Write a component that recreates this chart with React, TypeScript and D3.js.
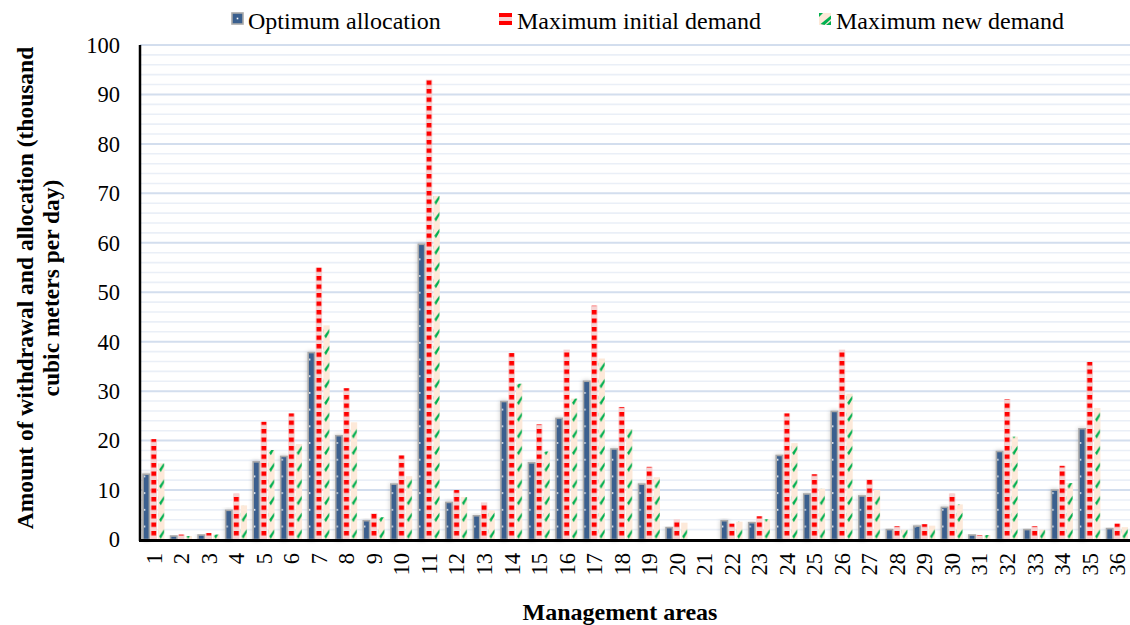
import React from "react";
import * as d3 from "d3";

const categories = Array.from({ length: 36 }, (_, i) => String(i + 1));
const optimumAllocation = [13.2, 0.7, 0.9, 5.9, 15.7, 16.8, 37.8, 21, 3.8, 11.2, 59.7, 7.5, 4.8, 27.9, 15.5, 24.5, 32, 18.3, 11.2, 2.4, 0, 3.8, 3.4, 17, 9.2, 25.9, 8.8, 2, 2.7, 6.5, 0.9, 17.8, 2, 10, 22.4, 2.2];
const maxInitialDemand = [20.3, 1, 1.3, 9.3, 23.8, 25.5, 55, 30.6, 5.3, 17, 93, 10, 7.5, 37.7, 23.3, 38.4, 47.3, 26.8, 14.7, 4.1, 0, 3.2, 4.7, 25.5, 13.2, 38.4, 12.2, 2.7, 3.1, 9.3, 0.9, 28.4, 2.7, 14.9, 35.9, 3.2];
const maxNewDemand = [15.4, 0.7, 1, 6.9, 18.1, 19.3, 43.3, 23.7, 4.5, 12.8, 69.5, 8.6, 5.9, 31.5, 17.8, 28.5, 36.6, 22.3, 12.6, 3.4, 0, 3.6, 4.1, 19.5, 10.3, 29.5, 10, 2, 2.8, 7.1, 0.9, 20.8, 2, 11.4, 26.6, 2.5];
const seriesNames = ["Optimum allocation", "Maximum initial demand", "Maximum new demand"];
const yTicks = [0, 10, 20, 30, 40, 50, 60, 70, 80, 90, 100];
const minorTicks = d3.range(0, 101, 2);

const W = 1130, H = 625;
const left = 140, right = 1131, top = 45, bottom = 539.5;
const FONT = "'Liberation Serif'";

export default function App() {
  const x0 = d3.scaleBand().domain(categories).range([left, right]).paddingInner(0.22).paddingOuter(0.11);
  const keys = ["opt", "ini", "new"];
  const x1 = d3.scaleBand().domain(keys).range([0, x0.bandwidth()]).paddingInner(0.16);
  const y = d3.scaleLinear().domain([0, 100]).range([bottom, top]);
  const bw = x1.bandwidth();
  const seriesData: Record<string, number[]> = { opt: optimumAllocation, ini: maxInitialDemand, new: maxNewDemand };
  const fills: Record<string, string> = { opt: "url(#pBlue)", ini: "url(#pRed)", new: "url(#pGreen)" };
  const ts = { fontFamily: FONT };

  return (
    <svg width={W} height={H} style={{ position: "absolute", left: 0, top: 0, background: "#fff" }}>
      <defs>
        <pattern id="pBlue" patternUnits="userSpaceOnUse" x={x1("opt")} y={0} width={bw} height={16.7}>
          <rect width={bw} height={16.7} fill="#3a5f8e" />
          <rect x={0.6} y={8} width={1.6} height={1.6} fill="#ffffff" />
        </pattern>
        <pattern id="pRed" patternUnits="userSpaceOnUse" x={x1("ini")} y={bottom} width={bw} height={8.5}>
          <rect width={bw} height={8.5} fill="#f6d3d3" />
          <rect x={0.7} y={0} width={bw - 1.4} height={4.4} fill="#ff0000" />
        </pattern>
        <pattern id="pGreen" patternUnits="userSpaceOnUse" x={x1("new")} y={bottom} width={bw} height={16.7}>
          <rect width={bw} height={16.7} fill="#fde9d9" />
          <path d={`M1,13.5 L${bw - 0.3},6.5 L${bw - 0.3},9.8 L2.6,16 Z`} fill="#00b050" />
        </pattern>
        <filter id="shadow" x="-100%" y="-10%" width="300%" height="120%">
          <feDropShadow dx="0" dy="0" stdDeviation="2.2" floodColor="#000" floodOpacity="0.22" />
        </filter>
      </defs>

      {/* gridlines */}
      {minorTicks.filter((t) => t % 10 !== 0).map((t) => (
        <line key={"mi" + t} x1={left} x2={W} y1={y(t)} y2={y(t)} stroke="#eaeff7" strokeWidth={1.6} />
      ))}
      {yTicks.filter((t) => t !== 0).map((t) => (
        <line key={"ma" + t} x1={left} x2={W} y1={y(t)} y2={y(t)} stroke="#d3deee" strokeWidth={2} />
      ))}

      {/* bars */}
      {categories.map((c, i) => (
        <g key={c} transform={`translate(${x0(c)},0)`}>
          {keys.map((k) => {
            const v = seriesData[k][i];
            if (v <= 0) return null;
            const yy = y(v);
            const h = bottom - yy;
            return (
              <rect
                key={k}
                x={x1(k)}
                y={yy}
                width={bw}
                height={h}
                fill={fills[k]}
                stroke={k === "opt" ? "#a9a9a9" : "none"}
                strokeWidth={k === "opt" ? 1.6 : 0}
                filter={k === "opt" ? "url(#shadow)" : undefined}
              />
            );
          })}
        </g>
      ))}

      {/* axes */}
      <line x1={left} x2={left} y1={top} y2={bottom + 1.5} stroke="#000" strokeWidth={2.5} />
      <line x1={left - 1} x2={W} y1={bottom + 1} y2={bottom + 1} stroke="#000" strokeWidth={3} />

      {/* y tick labels */}
      {yTicks.map((t) => (
        <text key={"yt" + t} x={120} y={y(t)} dy="0.35em" textAnchor="end" fontSize={22.5} fill="#000" style={ts}>
          {t}
        </text>
      ))}

      {/* x tick labels */}
      {categories.map((c) => {
        const cx = (x0(c) as number) + x0.bandwidth() / 2;
        return (
          <text key={"xt" + c} transform={`translate(${cx},553) rotate(-90)`} dy="0.35em" textAnchor="end" fontSize={22.5} fill="#000" style={ts}>
            {c}
          </text>
        );
      })}

      {/* axis titles */}
      <text transform="translate(33,288) rotate(-90)" textAnchor="middle" fontSize={23.5} fontWeight="bold" fill="#000" style={ts}>
        Amount of withdrawal and allocation (thousand
      </text>
      <text transform="translate(59,288) rotate(-90)" textAnchor="middle" fontSize={23.5} fontWeight="bold" fill="#000" style={ts}>
        cubic meters per day)
      </text>
      <text x={620} y={620} textAnchor="middle" fontSize={24} fontWeight="bold" fill="#000" style={ts}>
        Management areas
      </text>

      {/* legend */}
      <g>
        <rect x={232} y={13} width={11} height={11} fill="#3a5f8e" stroke="#a9a9a9" strokeWidth={1.6} />
        <rect x={236.7} y={17.7} width={1.6} height={1.6} fill="#fff" />
        <text x={248} y={29} fontSize={24} fill="#000" style={ts}>{seriesNames[0]}</text>

        <rect x={499} y={13} width={13} height={12} fill="#f6d3d3" />
        <rect x={499} y={13} width={13} height={4} fill="#ff0000" />
        <rect x={499} y={21} width={13} height={4} fill="#ff0000" />
        <text x={517} y={29} fontSize={24} fill="#000" style={ts}>{seriesNames[1]}</text>

        <rect x={819} y={13} width={12} height={12} fill="#fde9d9" />
        <path d="M819,13 L823,13 L819,17 Z M831,21 L831,25 L826,25 Z" fill="#00b050" />
        <path d="M820.5,24 L831,15.5 L831,19 L824.5,25 Z" fill="#00b050" />
        <text x={836} y={29} fontSize={24} fill="#000" style={ts}>{seriesNames[2]}</text>
      </g>
    </svg>
  );
}
